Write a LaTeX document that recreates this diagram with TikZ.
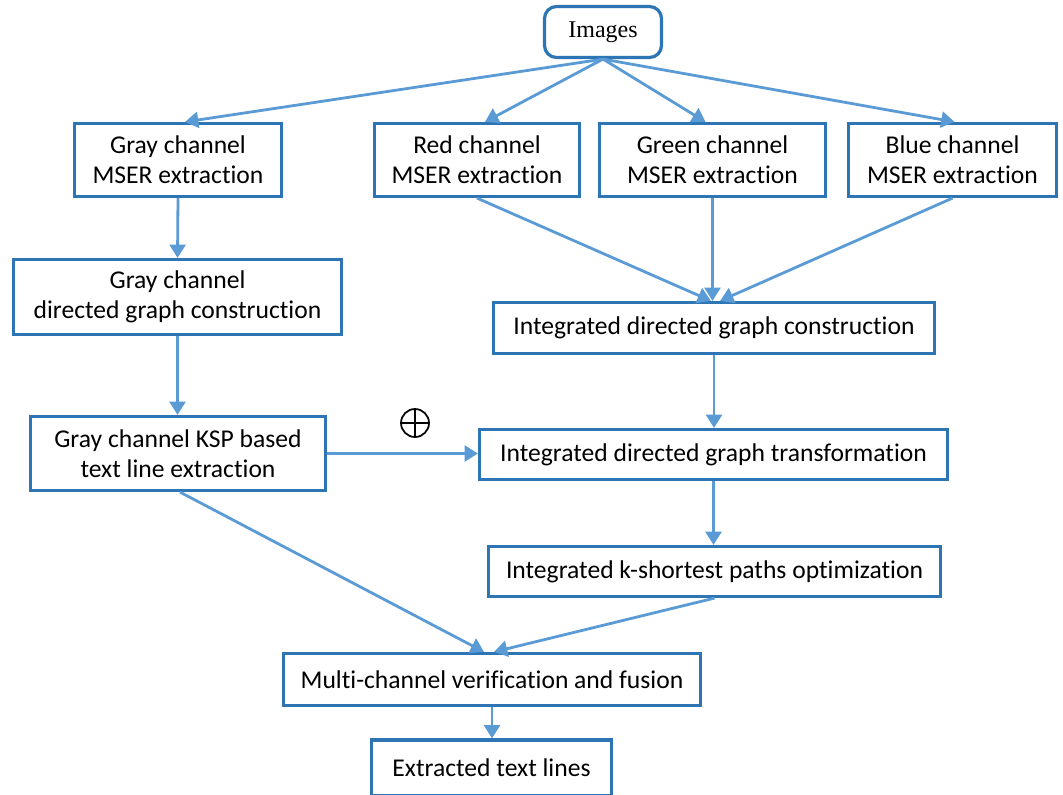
\documentclass[tikz,border=0pt]{standalone}
\usepackage{fontspec}
\setmainfont{Carlito}[Ligatures={NoCommon}]
\newfontfamily\timesfont{Liberation Serif}
\usetikzlibrary{arrows.meta,calc}
\definecolor{boxblue}{HTML}{2E75B6}
\definecolor{arrowblue}{HTML}{5B9BD5}

\begin{document}
\begin{tikzpicture}[x=0.75pt,y=-0.75pt,
  blk/.style={draw=boxblue, line width=2.4pt, fill=white, align=center,
              inner sep=0pt, font=\fontsize{19.2}{22.5}\selectfont},
  flow/.style={draw=arrowblue, line width=2.1pt,
               -{Triangle[length=10pt,width=12pt]}},
  oplusmark/.style={circle, draw=black, line width=1.3pt, minimum size=21pt,
              inner sep=0pt,
              path picture={
                \draw[line width=1.3pt] (path picture bounding box.north) -- (path picture bounding box.south);
                \draw[line width=1.3pt] (path picture bounding box.west) -- (path picture bounding box.east);}}]
\useasboundingbox (0,0) rectangle (1063,794);

% input
\node[blk, rounded corners=9pt, minimum width=87.75pt, minimum height=38.25pt,
      font=\timesfont\fontsize{18}{22}\selectfont] (imgs) at (603,32) {Images};

% per-channel MSER extraction
\node[blk, minimum width=155.25pt, minimum height=54.75pt] (gmser) at (178,160)
  {Gray channel\\MSER extraction};
\node[blk, minimum width=153.75pt, minimum height=54.75pt] (rmser) at (477,160)
  {Red channel\\MSER extraction};
\node[blk, minimum width=169.5pt, minimum height=54.75pt] (gnmser) at (712.5,160)
  {Green channel\\MSER extraction};
\node[blk, minimum width=156pt, minimum height=54.75pt] (bmser) at (952.5,160)
  {Blue channel\\MSER extraction};

% gray branch
\node[blk, minimum width=246pt, minimum height=56.25pt] (gdg) at (177.5,297)
  {Gray channel\\directed graph construction};
\node[blk, minimum width=221.25pt, minimum height=55.5pt] (gksp) at (178,453.5)
  {Gray channel KSP based\\text line extraction};

% integrated branch
\node[blk, minimum width=330.75pt, minimum height=38.25pt] (idg) at (714,328)
  {Integrated directed graph construction};
\node[blk, minimum width=351pt, minimum height=37.5pt] (idgt) at (713.5,454.5)
  {Integrated directed graph transformation};
\node[blk, minimum width=339pt, minimum height=37.5pt] (iksp) at (714.5,571.5)
  {Integrated k-shortest paths optimization};

% fusion and output
\node[blk, minimum width=312.75pt, minimum height=39pt] (mcv) at (492,679.5)
  {Multi-channel verification and fusion};
\node[blk, minimum width=180pt, minimum height=42pt] (etl) at (491.5,768)
  {Extracted text lines};

% fusion symbol above the merge arrow
\node[oplusmark] (oplus) at (415,423) {};

% connectors
\draw[flow] (imgs.south) -- ($(gmser.north)+(7,0)$);
\draw[flow] (imgs.south) -- ($(rmser.north)+(8,0)$);
\draw[flow] (imgs.south) -- ($(gnmser.north)+(-7,0)$);
\draw[flow] (imgs.south) -- ($(bmser.north)+(2,0)$);

\draw[flow] (gmser.south) -- (gdg.north);
\draw[flow] (gdg.south) -- (gdg.south |- gksp.north);

\draw[flow] (rmser.south) -- ($(idg.north)+(-3,0)$);
\draw[flow] (gnmser.south) -- (gnmser.south |- idg.north);
\draw[flow] (bmser.south) -- ($(idg.north)+(6,0)$);

\draw[flow] (idg.south) -- (idg.south |- idgt.north);
\draw[flow] (idgt.south) -- (idgt.south |- iksp.north);
\draw[flow] (gksp.east) -- (gksp.east -| idgt.west);

\draw[flow] ($(gksp.south)+(2,0)$) -- ($(mcv.north)+(-8,0)$);
\draw[flow] (iksp.south) -- ($(mcv.north)+(2,0)$);
\draw[flow] (mcv.south) -- (mcv.south |- etl.north);
\end{tikzpicture}
\end{document}
